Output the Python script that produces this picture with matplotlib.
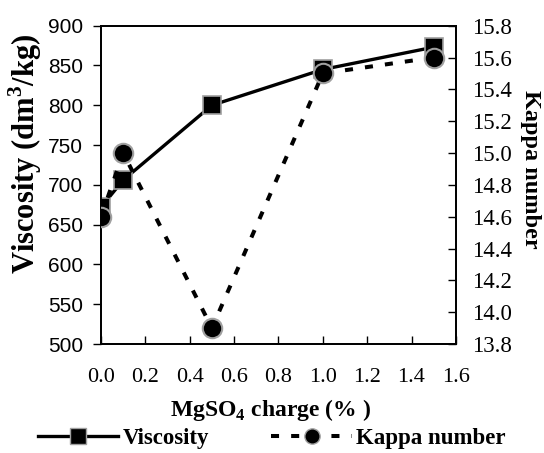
import matplotlib
matplotlib.use("Agg")
from matplotlib import pyplot as plt
from matplotlib.lines import Line2D

# Data
mgso4_charge = [0.0, 0.1, 0.5, 1.0, 1.5]
viscosity = [672, 706, 800, 845, 873]
kappa_number = [14.6, 15.0, 13.9, 15.5, 15.6]

x_ticks = [0.0, 0.2, 0.4, 0.6, 0.8, 1.0, 1.2, 1.4, 1.6]
visc_ticks = [500, 550, 600, 650, 700, 750, 800, 850, 900]
kappa_ticks = [13.8, 14.0, 14.2, 14.4, 14.6, 14.8, 15.0, 15.2, 15.4, 15.6, 15.8]

plt.rcParams["mathtext.fontset"] = "custom"
plt.rcParams["mathtext.rm"] = "Liberation Serif:bold"
plt.rcParams["mathtext.bf"] = "Liberation Serif:bold"

SERIF = "Liberation Serif"
SANS = "Liberation Sans"
EDGE = "#a0a0a0"
DASH = (0, (2.0, 3.0))

fig = plt.figure(figsize=(5.44, 4.53), dpi=100)
ax1 = fig.add_axes([0.1857, 0.2406, 0.838 - 0.1857, 0.9433 - 0.2406])
ax2 = ax1.twinx()

ax1.plot(mgso4_charge, viscosity, color="black", lw=2.4, marker="s", ms=13,
         mfc="black", mec=EDGE, mew=1.2, zorder=3)
ax2.plot(mgso4_charge, kappa_number, color="black", lw=2.9, ls=DASH,
         marker="o", ms=14, mfc="black", mec=EDGE, mew=1.5, zorder=3)

ax1.set_xlim(0, 1.6)
ax1.set_ylim(500, 900)
ax2.set_ylim(13.8, 15.8)
ax1.set_xticks(x_ticks)
ax1.set_yticks(visc_ticks)
ax2.set_yticks(kappa_ticks)
ax1.set_xticklabels([f"{v:.1f}" for v in x_ticks], family=SERIF, fontsize=16)
ax1.set_yticklabels([str(v) for v in visc_ticks], family=SANS, fontsize=15)
ax2.set_yticklabels([f"{v:.1f}" for v in kappa_ticks], family=SERIF, fontsize=16.5)

ax1.tick_params(axis="x", direction="in", length=6, width=1, pad=17)
ax1.tick_params(axis="y", direction="out", length=6, width=1, pad=7)
ax2.tick_params(axis="y", direction="in", length=6, width=1, pad=12)

for ax in (ax1, ax2):
    for s in ax.spines.values():
        s.set_linewidth(1.3)

fig.text(0.498, 0.095, r"MgSO$_4$ charge (% )", family=SERIF, fontweight="bold",
         fontsize=17, ha="center", va="center")
fig.text(0.046, 0.661, r"Viscosity (dm$^3$/kg)", family=SERIF, fontweight="bold",
         fontsize=22, rotation=90, ha="center", va="center")
fig.text(0.976, 0.627, "Kappa number", family=SERIF, fontweight="bold",
         fontsize=17.5, rotation=270, ha="center", va="center")

handles = [
    Line2D([], [], color="black", lw=2.4, marker="s", ms=11, mfc="black", mec=EDGE),
    Line2D([], [], color="black", lw=2.9, ls=DASH, marker="o", ms=11,
           mfc="black", mec=EDGE),
]
fig.legend(handles, ["Viscosity", "Kappa number"], loc="center", bbox_to_anchor=(0.5, 0.031),
           ncol=2, frameon=False, handlelength=3.5, handletextpad=0.2, columnspacing=2.7,
           borderpad=0, prop={"family": SERIF, "weight": "bold", "size": 16.5})

fig.savefig("out.png", dpi=100)
